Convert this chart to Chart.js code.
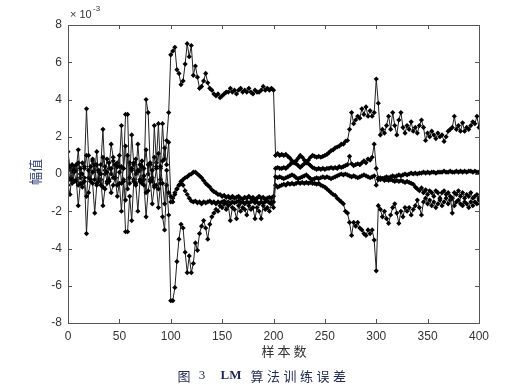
<!DOCTYPE html>
<html>
<head>
<meta charset="utf-8">
<script src="https://cdn.jsdelivr.net/npm/chart.js@4.4.0/dist/chart.umd.min.js"></script>
<style>
html, body { margin: 0; padding: 0; background: #fff; }
</style>
</head>
<body>
<canvas id="c" width="520" height="390"></canvas>
<script>
// sample spacing of the read-off values (every 2nd sample, 0..400)
var step = 2;
var xTicks = [0, 50, 100, 150, 200, 250, 300, 350, 400];
var yTicks = [-8, -6, -4, -2, 0, 2, 4, 6, 8];

// training error of the four outputs, units of 1e-3
var errA = [
	1.2,0.3,-0.5,0.4,0.2,1.3,-0.2,0.6,0.4,3.5, 1.0,-0.3,0.7,0.2,1.2,-0.4,0.5,2.4,0.0,0.8,
	0.3,1.6,0.9,-0.2,0.6,0.4,2.6,0.3,3.2,3.2, -0.5,2.1,0.5,0.0,1.6,0.2,0.7,-0.3,4.0,3.3,
	0.5,-0.4,2.6,0.6,2.7,0.3,2.7,0.8,1.8,3.3, 6.4,
	6.6,6.8,5.6,5.4,4.8,5.0,5.9,7.0,6.3,6.9, 5.3,5.8,5.2,4.6,4.7,5.0,5.4,4.9,4.6,4.5,
	4.3,4.2,4.3,4.1,4.2,4.3,4.4,4.4,4.6,4.4, 4.5,4.3,4.5,4.6,4.4,4.5,4.4,4.6,4.4,4.3,
	4.5,4.4,4.4,4.5,4.7,4.5,4.6,4.5,4.6,4.5,
	1.0,1.1,1.0,1.05,1.0,1.05,0.95,0.85,0.7,0.6, 0.7,0.85,1.0,0.9,0.75,0.6,0.75,0.9,1.0,0.95,
	0.9,0.95,0.9,0.95,1.0,1.05,1.15,1.25,1.3,1.4, 1.45,1.5,1.6,1.6,1.75,1.8,2.4,3.3,2.7,2.9,
	3.1,3.0,3.5,3.2,3.6,3.1,3.4,3.1,3.3,5.1,
	3.8,2.1,2.4,2.2,2.6,3.1,2.4,3.3,2.6,2.1, 2.9,3.3,2.5,2.2,2.6,2.4,2.8,2.3,2.5,2.2,
	2.6,2.9,2.5,1.8,2.2,2.0,2.3,2.1,1.9,2.2, 2.0,2.1,1.75,2.0,2.3,2.4,2.5,3.1,2.4,2.6,
	2.3,2.75,2.3,2.5,2.4,2.6,2.8,2.7,3.1,2.5
];
var errB = [
	0.2,-0.3,0.5,0.1,-0.4,0.6,0.0,-0.5,0.3,1.0, -0.2,0.4,0.8,-0.3,0.5,0.1,-0.6,0.9,0.2,-0.4,
	0.6,0.0,0.7,-0.2,0.4,1.0,-0.5,0.3,1.5,-0.8, 0.6,0.2,-0.3,0.8,0.1,0.5,-0.4,0.3,1.3,0.0,
	0.6,-0.2,0.9,0.4,1.1,-0.3,0.7,1.4,0.5,1.7, -1.2,
	-1.3,-1.0,-0.8,-0.6,-0.4,-0.3,-0.2,-0.15,-0.05,0.0, 0.1,0.1,0.0,-0.1,-0.2,-0.35,-0.5,-0.6,-0.7,-0.85,
	-0.95,-1.0,-1.1,-1.1,-1.2,-1.15,-1.25,-1.2,-1.3,-1.2, -1.3,-1.25,-1.2,-1.3,-1.35,-1.25,-1.3,-1.2,-1.3,-1.25,
	-1.35,-1.3,-1.2,-1.3,-1.25,-1.35,-1.3,-1.25,-1.3,-1.2,
	0.3,0.35,0.3,0.3,0.35,0.3,0.4,0.5,0.6,0.65, 0.55,0.45,0.35,0.45,0.55,0.65,0.55,0.45,0.35,0.3,
	0.25,0.3,0.25,0.3,0.25,0.3,0.3,0.35,0.3,0.35, 0.3,0.4,0.35,0.4,0.45,0.5,0.95,0.55,0.45,0.5,
	0.55,0.5,0.6,0.7,0.6,0.8,0.75,0.9,1.6,0.3,
	-0.2,-0.3,-0.25,-0.35,-0.3,-0.35,-0.3,-0.35,-0.4,-0.35, -0.4,-0.35,-0.4,-0.45,-0.4,-0.45,-0.5,-0.55,-0.7,-0.8,
	-0.9,-0.75,-1.0,-0.85,-1.1,-0.9,-1.0,-1.2,-0.9,-1.0, -1.3,-1.0,-0.9,-1.1,-1.0,-1.2,-2.1,-1.0,-1.1,-0.9,
	-1.2,-1.0,-1.3,-1.1,-1.2,-1.0,-1.3,-1.2,-1.1,-1.3
];
var errC = [
	-0.2,0.4,-0.3,0.2,0.5,-0.6,0.3,0.0,-0.4,-1.2, 0.2,-0.3,0.1,0.5,-0.5,0.2,0.0,-0.7,0.4,0.1,
	-0.3,0.3,-0.2,0.5,-0.6,0.1,0.4,-0.4,-1.4,1.0, -0.2,0.3,0.6,-0.5,0.2,-0.3,0.4,-0.1,-1.0,0.5,
	-0.4,0.2,-0.6,0.3,-0.8,0.4,-0.5,-1.6,0.2,-1.0, -1.5,
	-1.5,-1.1,-0.8,-0.6,-0.5,-0.6,-0.9,-1.1,-1.3,-1.45, -1.5,-1.45,-1.55,-1.5,-1.6,-1.5,-1.55,-1.5,-1.45,-1.55,
	-1.5,-1.6,-1.5,-1.55,-1.5,-1.45,-1.55,-1.5,-1.6,-1.5, -1.55,-1.5,-1.45,-1.55,-1.5,-1.6,-1.5,-1.55,-1.5,-1.45,
	-1.55,-1.5,-1.6,-1.5,-1.55,-1.5,-1.45,-1.55,-1.5,-1.5,
	-0.15,-0.2,-0.15,-0.2,-0.25,-0.2,-0.15,-0.1,-0.05,-0.1, -0.2,-0.25,-0.2,-0.15,-0.1,-0.05,-0.15,-0.25,-0.3,-0.25,
	-0.2,-0.25,-0.2,-0.15,-0.2,-0.15,-0.2,-0.25,-0.2,-0.15, -0.1,-0.05,0.0,-0.05,0.0,-0.05,-0.1,-0.15,-0.1,-0.15,
	-0.2,-0.15,-0.1,-0.05,-0.1,-0.15,-0.2,-0.15,-0.1,-0.6,
	-0.3,-0.2,-0.25,-0.2,-0.15,-0.2,-0.15,-0.1,-0.15,-0.1, -0.05,-0.1,-0.05,0.0,-0.05,0.0,0.05,0.0,0.05,0.0,
	0.05,0.05,0.1,0.05,0.1,0.05,0.1,0.1,0.05,0.1, 0.1,0.1,0.15,0.1,0.1,0.15,0.1,0.1,0.15,0.1,
	0.15,0.1,0.15,0.1,0.15,0.15,0.1,0.15,0.1,0.1
];
var errD = [
	-0.6,-1.1,0.2,-0.4,-0.3,-1.7,-0.5,-0.7,-0.2,-3.2, -1.0,-0.4,-0.5,-2.1,-0.6,-0.3,-0.3,-1.7,-0.8,-0.5,
	-0.4,-1.0,-0.6,-0.2,-1.2,-0.5,-2.0,-0.3,-3.1,-3.1, -1.2,-2.5,-0.4,-0.6,-2.0,-0.4,-0.5,-0.6,-2.3,-0.9,
	-0.3,-1.6,-0.7,-0.6,-1.8,-0.5,-2.3,-3.0,-0.6,-2.2, -6.8,
	-6.8,-6.1,-4.7,-3.5,-2.7,-2.9,-4.2,-5.3,-4.4,-5.3, -4.8,-3.7,-4.1,-3.2,-2.8,-2.5,-2.9,-3.5,-2.7,-2.3,
	-2.1,-1.9,-2.0,-1.7,-1.8,-1.6,-1.9,-1.7,-2.5,-1.8, -1.9,-2.4,-1.7,-2.0,-1.8,-1.9,-2.2,-1.7,-1.9,-1.8,
	-2.4,-1.8,-2.0,-2.4,-1.7,-1.9,-1.8,-2.0,-1.6,-1.8,
	-0.6,-0.7,-0.65,-0.6,-0.55,-0.6,-0.5,-0.55,-0.5,-0.55, -0.5,-0.45,-0.5,-0.45,-0.5,-0.45,-0.5,-0.45,-0.5,-0.5,
	-0.55,-0.5,-0.6,-0.65,-0.7,-0.8,-0.9,-1.0,-1.1,-1.15, -1.3,-1.4,-1.5,-1.6,-2.0,-2.1,-2.6,-3.3,-2.6,-2.8,
	-2.6,-2.9,-3.0,-3.2,-3.3,-3.0,-3.2,-3.0,-3.55,-5.2,
	-1.7,-1.9,-2.3,-2.0,-2.4,-2.65,-2.2,-1.8,-1.6,-2.1, -2.65,-2.0,-2.3,-1.8,-2.0,-1.8,-2.2,-1.9,-1.7,-1.4,
	-1.8,-2.2,-1.5,-1.3,-1.6,-1.4,-1.7,-1.5,-1.8,-1.6, -1.4,-1.7,-1.5,-1.3,-1.6,-1.4,-1.3,-1.7,-1.5,-1.4,
	-1.6,-1.7,-1.5,-1.6,-1.8,-1.5,-1.7,-1.5,-1.6,-1.4
];

function toPoints(arr) {
	var pts = [];
	for (var i = 0; i < arr.length; i++) {
		pts.push({x: i * step, y: arr[i]});
	}
	return pts;
}

function makeSet(arr) {
	return {
		data: toPoints(arr),
		borderColor: '#222',
		borderWidth: 1,
		pointStyle: 'rectRot',
		pointRadius: 2.6,
		pointBorderWidth: 0,
		pointBackgroundColor: '#000',
		tension: 0
	};
}

// box, inward ticks and the texts round the plot
var frame = {
	id: 'frame',
	afterDraw: function(chart) {
		var ctx = chart.ctx, a = chart.chartArea;
		var xs = chart.scales.x, ys = chart.scales.y;
		ctx.save();
		ctx.strokeStyle = '#555';
		ctx.lineWidth = 1;
		ctx.strokeRect(Math.round(a.left) + 0.5, Math.round(a.top) + 0.5,
			Math.round(a.right - a.left), Math.round(a.bottom - a.top));
		ctx.beginPath();
		xTicks.forEach(function(v) {
			var px = Math.round(xs.getPixelForValue(v)) + 0.5;
			ctx.moveTo(px, a.bottom); ctx.lineTo(px, a.bottom - 4);
			ctx.moveTo(px, a.top); ctx.lineTo(px, a.top + 4);
		});
		yTicks.forEach(function(v) {
			var py = Math.round(ys.getPixelForValue(v)) + 0.5;
			ctx.moveTo(a.left, py); ctx.lineTo(a.left + 4, py);
			ctx.moveTo(a.right, py); ctx.lineTo(a.right - 4, py);
		});
		ctx.stroke();

		// exponent
		ctx.fillStyle = '#333';
		ctx.textBaseline = 'middle';
		ctx.textAlign = 'left';
		ctx.font = '11px "Liberation Sans", Arial, sans-serif';
		ctx.fillText('\u00d7 10', a.left + 2, 15);
		ctx.font = '8px "Liberation Sans", Arial, sans-serif';
		ctx.fillText('-3', a.left + 25, 9);

		// y title
		ctx.save();
		ctx.translate(35, 172);
		ctx.rotate(-Math.PI / 2);
		ctx.textAlign = 'center';
		ctx.fillStyle = '#2d3f78';
		ctx.font = '13px "Noto Sans CJK SC", sans-serif';
		ctx.fillText('幅值', 0, 0);
		ctx.restore();

		// x title
		ctx.textAlign = 'center';
		ctx.fillStyle = '#333';
		ctx.font = '13px "Noto Sans CJK SC", sans-serif';
		var xt = '样本数';
		for (var i = 0; i < xt.length; i++) {
			ctx.fillText(xt[i], 268 + i * 16, 351);
		}

		// caption
		ctx.fillStyle = '#1e2a55';
		ctx.font = '13px "Noto Sans CJK SC", sans-serif';
		ctx.fillText('图', 184, 376);
		ctx.font = '13px "Liberation Serif", serif';
		ctx.fillText('3', 202, 376);
		ctx.font = 'bold 13px "Liberation Serif", serif';
		ctx.fillText('LM', 231, 376);
		ctx.font = '13px "Noto Sans CJK SC", sans-serif';
		var cap = '算法训练误差';
		for (var j = 0; j < cap.length; j++) {
			ctx.fillText(cap[j], 257 + j * 16.5, 376);
		}
		ctx.restore();
	}
};

var ctx = document.getElementById('c').getContext('2d');
var chart = new Chart(ctx, {
	type: 'line',
	data: {
		datasets: [makeSet(errC), makeSet(errB), makeSet(errD), makeSet(errA)]
	},
	options: {
		responsive: false,
		animation: false,
		devicePixelRatio: 1,
		layout: { padding: { left: 0, right: 41, top: 25, bottom: 0 } },
		plugins: { legend: { display: false }, tooltip: { enabled: false } },
		scales: {
			x: {
				type: 'linear',
				min: 0, max: 400,
				afterBuildTicks: function(s) { s.ticks = xTicks.map(function(v) { return {value: v}; }); },
				afterFit: function(s) { s.height = 67; },
				grid: { display: false, drawTicks: false },
				border: { display: false },
				ticks: { padding: 6, color: '#333', maxRotation: 0,
					font: { family: '"Liberation Sans", Arial, sans-serif', size: 12 } }
			},
			y: {
				type: 'linear',
				min: -8, max: 8,
				afterBuildTicks: function(s) { s.ticks = yTicks.map(function(v) { return {value: v}; }); },
				afterFit: function(s) { s.width = 68; },
				grid: { display: false, drawTicks: false },
				border: { display: false },
				ticks: { padding: 6, color: '#333',
					font: { family: '"Liberation Sans", Arial, sans-serif', size: 12 } }
			}
		}
	},
	plugins: [frame]
});
</script>
</body>
</html>
